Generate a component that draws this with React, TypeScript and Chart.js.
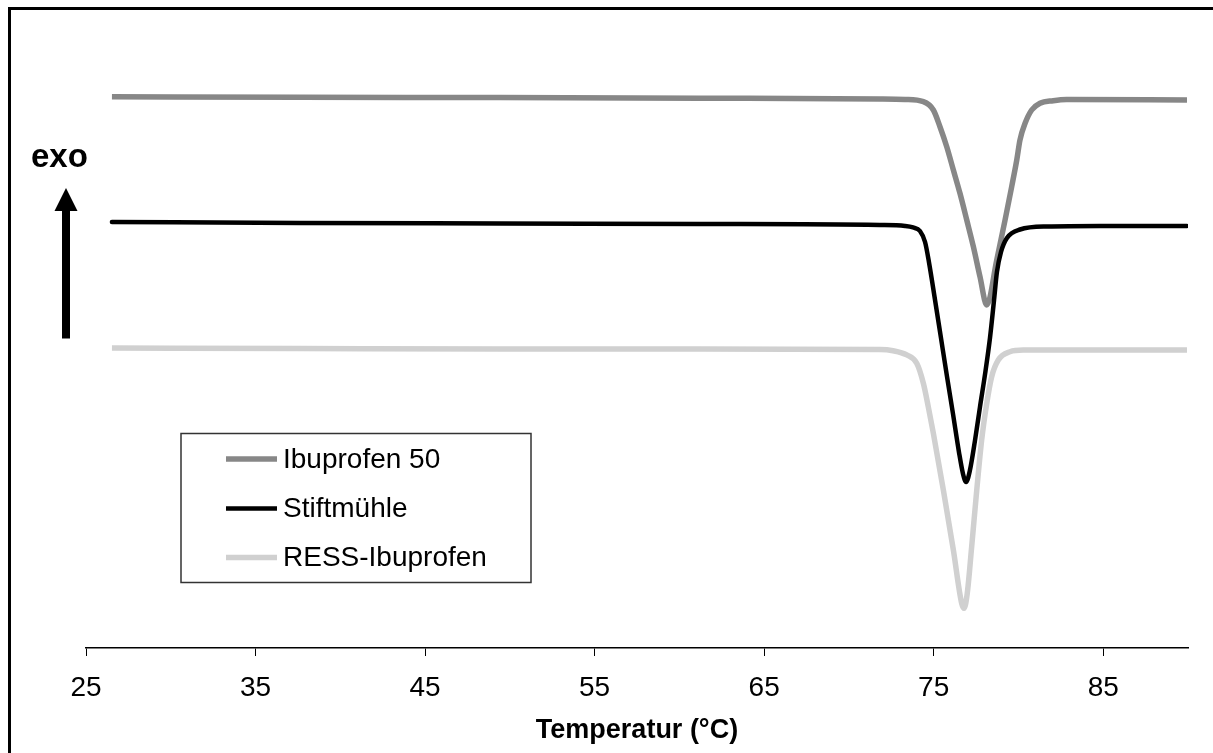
import React, { useEffect, useRef } from 'react';
import { Chart, registerables } from 'chart.js';

Chart.register(...registerables);

// ---- data ----
const seriesLabels = ['Ibuprofen 50', 'Stiftmühle', 'RESS-Ibuprofen'];
const xTickValues = [25, 35, 45, 55, 65, 75, 85];
const xTitle = 'Temperatur (°C)';
const exoLabel = 'exo';

const ibuTemp = [26.53, 37.62, 49.42, 61.22, 71.83, 73.31, 74.39, 74.98, 75.37, 75.77, 76.16, 76.55, 76.95, 77.34, 77.73, 78.13, 78.72, 79.21, 79.6, 79.9, 80.09, 80.39, 80.78, 81.27, 82.05, 82.84, 89.94];
const ibuFlow = [87.79, 87.69, 87.64, 87.55, 87.42, 87.34, 86.99, 85.67, 83.01, 79.82, 76.11, 72.4, 68.15, 63.9, 59.12, 54.62, 61.78, 68.15, 73.46, 77.71, 80.89, 83.55, 85.67, 86.74, 87.15, 87.34, 87.26];

const stiftTemp = [26.53, 37.62, 49.42, 61.22, 71.83, 73.31, 73.78, 74.19, 74.49, 74.72, 75.08, 75.43, 75.78, 76.14, 76.49, 76.73, 76.91, 77.14, 77.44, 77.73, 78.03, 78.32, 78.56, 78.73, 78.97, 79.32, 80.09, 81.68, 84.81, 89.94];
const stiftFlow = [67.83, 67.68, 67.6, 67.52, 67.36, 67.2, 66.96, 66.4, 64.65, 61.46, 55.41, 49.36, 43.31, 37.26, 31.21, 27.71, 26.43, 28.34, 33.12, 38.38, 43.63, 49.36, 55.41, 59.87, 63.06, 65.29, 66.64, 67.12, 67.2, 67.2];

const ressTemp = [26.53, 37.62, 49.42, 61.22, 71.83, 72.6, 73.41, 74.0, 74.39, 74.68, 74.98, 75.57, 76.16, 76.65, 76.79, 76.98, 77.24, 77.54, 77.83, 78.13, 78.42, 78.81, 79.5, 80.27, 89.94];
const ressFlow = [47.77, 47.69, 47.61, 47.61, 47.53, 47.34, 46.66, 45.33, 42.15, 38.42, 34.19, 25.16, 15.61, 7.12, 6.32, 8.71, 16.13, 25.16, 33.12, 38.96, 43.2, 45.86, 47.18, 47.45, 47.45];

const FONT = "'Liberation Sans', Arial, Helvetica, sans-serif";

const toPoints = (xs: number[], ys: number[]) => xs.map((x, i) => ({ x, y: ys[i] }));

const decorPlugin = {
  id: 'decor',
  afterDraw(chart: any) {
    const ctx = chart.ctx as CanvasRenderingContext2D;
    ctx.save();
    // outer frame (left + top edges visible)
    ctx.fillStyle = '#000';
    ctx.fillRect(8, 7, 3, 800);
    ctx.fillRect(8, 7, 1300, 3);

    // exo label + arrow
    ctx.font = `bold 33px ${FONT}`;
    ctx.textAlign = 'left';
    ctx.textBaseline = 'alphabetic';
    ctx.fillText(exoLabel, 31, 167);
    ctx.fillRect(62, 209, 8, 129.5);
    ctx.beginPath();
    ctx.moveTo(66, 188);
    ctx.lineTo(77.5, 211);
    ctx.lineTo(54.5, 211);
    ctx.closePath();
    ctx.fill();

    // legend
    ctx.lineWidth = 1.5;
    ctx.strokeStyle = '#333';
    ctx.strokeRect(181, 433.5, 350, 149);
    const rows = [459, 508.5, 557.5];
    chart.data.datasets.forEach((ds: any, i: number) => {
      ctx.strokeStyle = ds.borderColor;
      ctx.lineWidth = ds.borderWidth;
      ctx.lineCap = 'butt';
      ctx.beginPath();
      ctx.moveTo(226, rows[i]);
      ctx.lineTo(277, rows[i]);
      ctx.stroke();
      ctx.fillStyle = '#000';
      ctx.font = `28px ${FONT}`;
      ctx.textBaseline = 'middle';
      ctx.fillText(ds.label, 283, rows[i] + 1);
    });
    ctx.restore();
  },
};

export default function App() {
  const canvasRef = useRef<HTMLCanvasElement | null>(null);

  useEffect(() => {
    if (!canvasRef.current) return;
    Chart.defaults.font.family = FONT;
    const chart = new Chart(canvasRef.current, {
      type: 'line',
      data: {
        datasets: [
          {
            label: seriesLabels[0],
            data: toPoints(ibuTemp, ibuFlow),
            borderColor: '#878787',
            borderWidth: 5.5,
            pointRadius: 0,
            cubicInterpolationMode: 'monotone',
            order: 2,
          },
          {
            label: seriesLabels[1],
            data: toPoints(stiftTemp, stiftFlow),
            borderColor: '#000000',
            borderWidth: 4.5,
            pointRadius: 0,
            borderCapStyle: 'round',
            cubicInterpolationMode: 'monotone',
            order: 0,
          },
          {
            label: seriesLabels[2],
            data: toPoints(ressTemp, ressFlow),
            borderColor: '#d0d0d0',
            borderWidth: 5.5,
            pointRadius: 0,
            cubicInterpolationMode: 'monotone',
            order: 1,
          },
        ],
      },
      options: {
        responsive: false,
        animation: false,
        events: [],
        layout: { padding: { left: 86, right: 25, top: 20, bottom: 0 } },
        plugins: {
          legend: { display: false },
          tooltip: { enabled: false },
          title: { display: false },
        },
        scales: {
          x: {
            type: 'linear',
            min: 25,
            max: 90,
            afterBuildTicks: (scale: any) => {
              scale.ticks = xTickValues.map((v) => ({ value: v }));
            },
            afterFit: (scale: any) => {
              scale.height = 105;
            },
            ticks: {
              color: '#000',
              font: { size: 28 },
              padding: 15,
              maxRotation: 0,
              autoSkip: false,
            },
            grid: {
              display: true,
              drawOnChartArea: false,
              drawTicks: true,
              tickLength: 8,
              color: '#000',
              lineWidth: 1,
            },
            border: { display: true, color: '#000', width: 1.5 },
            title: {
              display: true,
              text: xTitle,
              color: '#000',
              font: { size: 27, weight: 'bold' },
              padding: { top: 0, bottom: 6 },
            },
          },
          y: {
            type: 'linear',
            display: false,
            min: 0,
            max: 100,
          },
        },
      },
      plugins: [decorPlugin],
    } as any);
    return () => chart.destroy();
  }, []);

  return (
    <div style={{ position: 'fixed', left: 0, top: 0, width: 1213, height: 753, background: '#fff' }}>
      <canvas ref={canvasRef} width={1213} height={753} style={{ display: 'block' }} />
    </div>
  );
}
